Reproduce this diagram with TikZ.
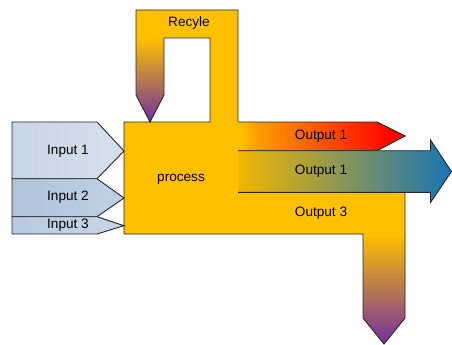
\documentclass[tikz,border=0pt]{standalone}
\usepackage{fontspec}
\setmainfont{Liberation Sans}
\usetikzlibrary{positioning}
\definecolor{gold}{HTML}{FFC000}
\definecolor{amber}{HTML}{FF9A00}
\definecolor{plum}{HTML}{7030A0}
\definecolor{sea}{HTML}{1874B5}
\pgfdeclarehorizontalshading{flame}{100bp}{color(0bp)=(gold); color(26bp)=(gold);
  color(31bp)=(amber); color(72bp)=(red); color(100bp)=(red)}
\tikzstyle{edge} = [draw=black!85, line width=0.9pt, line join=miter]
\tikzstyle{lbl} = [font=\fontsize{13.6}{16}\selectfont, inner sep=0pt]

\begin{document}
\begin{tikzpicture}[x=1pt, y=-1pt]
\useasboundingbox (0,0) rectangle (452,345);
% process block with recycle loop and output 3 leg
\fill[gold] (124,122) -- (210,122) -- (210,38) -- (164,38) -- (164,95) -- (150,122)
  -- (136,95) -- (136,10) -- (238,10) -- (238,192) -- (405,192) -- (405,318)
  -- (384,344) -- (363,318) -- (363,234) -- (124,234) -- cycle;
\shade[top color=gold, bottom color=plum] (136,38) -- (164,38) -- (164,95) -- (150,122) -- (136,95) -- cycle;
\shade[top color=gold, bottom color=plum] (363,234) -- (405,234) -- (405,318) -- (384,344) -- (363,318) -- cycle;
\draw[edge] (238,122) -- (238,10) -- (136,10) -- (136,95) -- (150,122) -- (164,95) -- (164,38)
  -- (210,38) -- (210,122) -- (124,122) -- (124,234) -- (363,234) -- (363,318) -- (384,344)
  -- (405,318) -- (405,192) -- (238,192);
% outputs
\shade[shading=flame] (238,122) -- (377,122) -- (405,136) -- (377,150.7) -- (238,150.7) -- cycle;
\draw[edge] (238,122) -- (377,122) -- (405,136) -- (377,150.7) -- (238,150.7);
\shade[left color=gold!95!black, right color=sea] (238,150.7) -- (430.5,150.7) -- (430.5,140) -- (451.5,171.5)
  -- (430.5,202.5) -- (430.5,192.3) -- (238,192.3) -- cycle;
\draw[edge] (238,150.7) -- (430.5,150.7) -- (430.5,140) -- (451.5,171.5) -- (430.5,202.5) -- (430.5,192.3) -- (238,192.3);
% inputs
\shade[edge, left color={rgb,255:red,200;green,213;blue,229}, right color={rgb,255:red,214;green,224;blue,236}]
  (12,122) -- (97,122) -- (124,151) -- (97,178.7) -- (12,178.7) -- cycle;
\shade[edge, left color={rgb,255:red,174;green,194;blue,218}, right color={rgb,255:red,194;green,209;blue,228}]
  (12,178.7) -- (97,178.7) -- (124,198) -- (97,216.7) -- (12,216.7) -- cycle;
\shade[edge, left color={rgb,255:red,184;green,202;blue,224}, right color={rgb,255:red,200;green,214;blue,231}]
  (12,216.7) -- (97,216.7) -- (124,225.7) -- (97,234) -- (12,234) -- cycle;
% labels
\node[lbl] (recycle) at (189,23) {Recyle};
\node[lbl] (process) at (181,179) {process};
\node[lbl] (in1) at (68,151) {Input 1};
\node[lbl] (in2) at (68,197.5) {Input 2};
\node[lbl] (in3) at (68,225.5) {Input 3};
\node[lbl] (out1) at (321,136) {Output 1};
\node[lbl] (out2) at (321,171.5) {Output 1};
\node[lbl] (out3) at (321,213) {Output 3};
\end{tikzpicture}
\end{document}
